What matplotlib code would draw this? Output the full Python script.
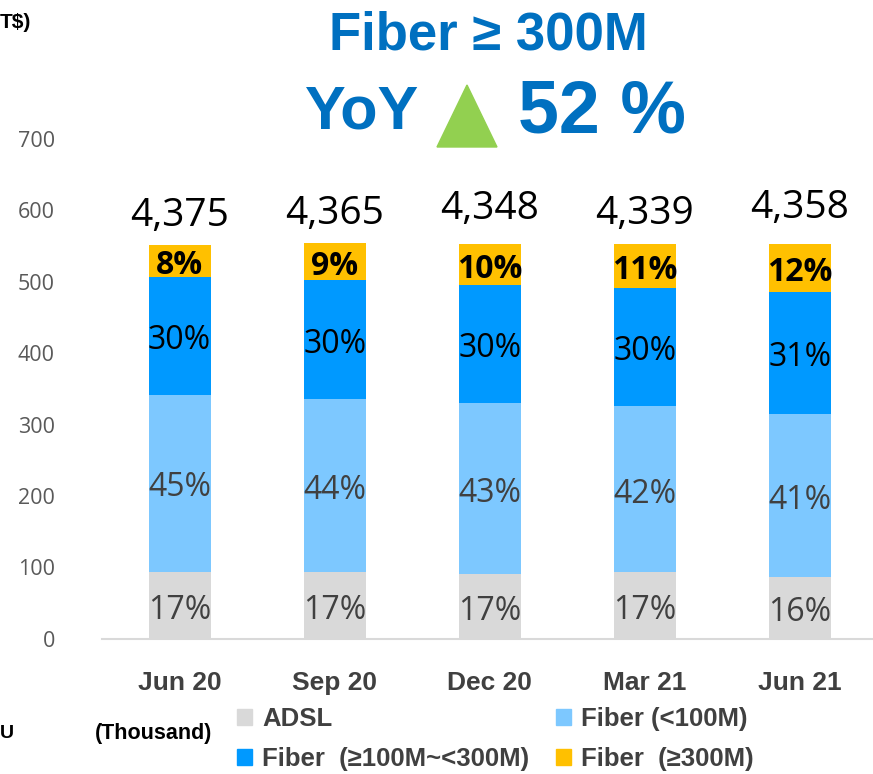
import numpy as np
import matplotlib.pyplot as plt
import matplotlib.transforms as mtransforms
from matplotlib.patches import Polygon, Patch

quarters = ['Jun 20', 'Sep 20', 'Dec 20', 'Mar 21', 'Jun 21']
totals = ['4,375', '4,365', '4,348', '4,339', '4,358']

adsl = [94, 93, 91, 93, 87]
fiber_lt100 = [248, 243, 239, 233, 228]
fiber_100_300 = [165, 166, 166, 165, 171]
fiber_ge300 = [45, 52, 57, 62, 67]

pct_adsl = ['17%', '17%', '17%', '17%', '16%']
pct_lt100 = ['45%', '44%', '43%', '42%', '41%']
pct_100_300 = ['30%', '30%', '30%', '30%', '31%']
pct_ge300 = ['8%', '9%', '10%', '11%', '12%']

COLORS = {
    'adsl': '#D9D9D9',
    'lt100': '#7DC8FF',
    'mid': '#0099FF',
    'ge300': '#FFC000',
}

LABEL_FONT = ['Open Sans', 'DejaVu Sans']
BOLD_FONT = ['Liberation Sans', 'DejaVu Sans']
# total labels were placed by hand in the slide, so they float a bit differently
total_offsets = [13.7, 13.7, 18, 14.4, 18.7]

fig = plt.figure(figsize=(8.73, 7.74), dpi=100)
ax = fig.add_axes([102 / 873, (774 - 638.7) / 774, (873 - 102) / 873, 499.7 / 774])

x = np.arange(len(quarters))
w = 0.40
series = [
    (adsl, COLORS['adsl'], pct_adsl, '#404040', 'normal'),
    (fiber_lt100, COLORS['lt100'], pct_lt100, '#404040', 'normal'),
    (fiber_100_300, COLORS['mid'], pct_100_300, 'black', 'normal'),
    (fiber_ge300, COLORS['ge300'], pct_ge300, 'black', 'bold'),
]
bottom = np.zeros(len(quarters))
for vals, col, labels, tcol, weight in series:
    vals = np.array(vals, dtype=float)
    ax.bar(x, vals, w, bottom=bottom, color=col, zorder=2)
    for i in range(len(x)):
        ax.annotate(labels[i], (x[i], bottom[i] + vals[i] / 2), xytext=(0, -3.5),
                    textcoords='offset points', ha='center', va='center',
                    fontsize=23, color=tcol, fontweight=weight, family=LABEL_FONT)
    bottom += vals

for i in range(len(x)):
    ax.annotate(totals[i], (x[i], bottom[i]), xytext=(0, total_offsets[i]),
                textcoords='offset points', ha='center', va='baseline',
                fontsize=28, color='black', family=LABEL_FONT)

ax.set_xlim(-0.5, 4.471)
ax.set_ylim(0, 700)
ax.set_yticks(np.arange(0, 701, 100))
ax.set_xticks(x)
ax.set_xticklabels(quarters, fontsize=19, fontweight='bold', color='#404040', family=BOLD_FONT)
shift = mtransforms.ScaledTranslation(0, -4 / 100, fig.dpi_scale_trans)
for lab in ax.get_yticklabels():
    lab.set_family(LABEL_FONT)
    lab.set_transform(lab.get_transform() + shift)
ax.tick_params(axis='y', length=0, pad=34, labelsize=15.5, labelcolor='#595959')
ax.tick_params(axis='x', length=0, pad=23.5)
for s in ['left', 'right', 'top']:
    ax.spines[s].set_visible(False)
ax.spines['bottom'].set_color('#D9D9D9')
ax.spines['bottom'].set_linewidth(1.5)
ax.set_facecolor('none')

# headline
fig.text(488 / 873, 1 - 36 / 774, 'Fiber \u2265 300M', ha='center', va='center',
         fontsize=38, fontweight='bold', color='#0070C0', family=BOLD_FONT)
fig.text(305 / 873, 1 - 113 / 774, 'YoY', ha='left', va='center',
         fontsize=44, fontweight='bold', color='#0070C0', family=BOLD_FONT)
fig.text(518 / 873, 1 - 113 / 774, '52 %', ha='left', va='center',
         fontsize=53, fontweight='bold', color='#0070C0', family=BOLD_FONT)
tri = Polygon([[437 / 873, 1 - 147 / 774], [497 / 873, 1 - 147 / 774], [467 / 873, 1 - 85 / 774]],
              closed=True, transform=fig.transFigure, color='#92D050')
fig.patches.append(tri)

fig.text(0, 1 - 22 / 774, 'T$)', ha='left', va='center', fontsize=15, fontweight='bold',
         family=BOLD_FONT)
fig.text(0, 1 - 733 / 774, 'U', ha='left', va='center', fontsize=14, fontweight='bold',
         family=BOLD_FONT)
fig.text(95 / 873, 1 - 733 / 774, '(Thousand)', ha='left', va='center', fontsize=15.5,
         fontweight='bold', family=BOLD_FONT)

handles = [
    Patch(color=COLORS['adsl'], label='ADSL'),
    Patch(color=COLORS['mid'], label='Fiber  (\u2265100M~<300M)'),
    Patch(color=COLORS['lt100'], label='Fiber (<100M)'),
    Patch(color=COLORS['ge300'], label='Fiber  (\u2265300M)'),
]
leg = fig.legend(handles=handles, ncol=2, loc='upper left',
                 bbox_to_anchor=(219 / 873, 1 - 689 / 774), borderpad=0.2,
                 frameon=False, handlelength=0.57, handleheight=0.57, handletextpad=0.4,
                 columnspacing=1.05, labelspacing=0.62,
                 prop={'family': BOLD_FONT, 'weight': 'bold', 'size': 18.5})
for t in leg.get_texts():
    t.set_color('#404040')

fig.savefig('out.png', dpi=100, facecolor='white')
